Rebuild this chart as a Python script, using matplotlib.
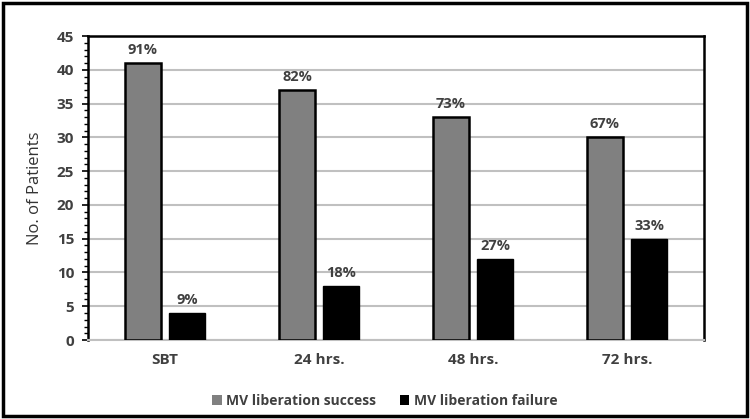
import numpy as np
import matplotlib.pyplot as plt
from matplotlib.patches import Rectangle

plt.rcParams['font.family'] = ['Open Sans', 'DejaVu Sans']

categories = ['SBT', '24 hrs.', '48 hrs.', '72 hrs.']
success = [41, 37, 33, 30]
failure = [4, 8, 12, 15]
success_pct = ['91%', '82%', '73%', '67%']
failure_pct = ['9%', '18%', '27%', '33%']

txt = '#404040'

fig = plt.figure(figsize=(7.5, 4.19), dpi=100)
ax = fig.add_axes([0.1173, 0.1885, 0.8214, 0.7255])

x = np.arange(len(categories))
w = 0.234
off = 0.143

b1 = ax.bar(x - off, success, w, color='#808080', edgecolor='black', linewidth=1.8,
            label='MV liberation success', zorder=3)
b2 = ax.bar(x + off, failure, w, color='black', edgecolor='black', linewidth=1.0,
            label='MV liberation failure', zorder=3)

for rect, lab in zip(b1, success_pct):
    ax.text(rect.get_x() + rect.get_width() / 2, rect.get_height() + 0.9, lab,
            ha='center', va='bottom', fontsize=10.5, fontweight='bold', color=txt)
for rect, lab in zip(b2, failure_pct):
    ax.text(rect.get_x() + rect.get_width() / 2, rect.get_height() + 0.9, lab,
            ha='center', va='bottom', fontsize=10.5, fontweight='bold', color=txt)

ax.set_xlim(-0.5, 3.5)
ax.set_ylim(0, 45)
ax.set_yticks(np.arange(0, 46, 5))
ax.set_yticks(np.arange(0, 46, 1), minor=True)
ax.set_xticks(x)
ax.set_xticklabels(categories)
ax.tick_params(axis='x', length=0, pad=9, labelsize=11, labelcolor=txt)
ax.tick_params(axis='y', which='major', length=4, width=1.2, labelsize=11, labelcolor=txt, pad=6)
ax.tick_params(axis='y', which='minor', length=3, width=1.0)
for lab in ax.get_xticklabels() + ax.get_yticklabels():
    lab.set_fontweight('bold')

ax.yaxis.grid(True, color='#c0c0c0', linewidth=1.5, zorder=0)
ax.set_axisbelow(True)
for s in ['left', 'top', 'right']:
    ax.spines[s].set_linewidth(1.8)
    ax.spines[s].set_color('black')
ax.spines['bottom'].set_color('#c0c0c0')
ax.spines['bottom'].set_linewidth(1.5)

ax.set_ylabel('No. of Patients', fontsize=12, color='#333333', labelpad=10)

leg = fig.legend(handles=[b1, b2], loc='center', bbox_to_anchor=(0.513, 0.043), ncol=2,
                 frameon=False, fontsize=10, handlelength=0.7, handleheight=0.7,
                 columnspacing=1.7, handletextpad=0.3)
for t in leg.get_texts():
    t.set_color(txt)
    t.set_fontweight('bold')
for h in leg.legend_handles:
    h.set_linewidth(0)

fig.patches.append(Rectangle((0.004, 0.006), 0.992, 0.988, transform=fig.transFigure,
                             fill=False, edgecolor='black', linewidth=2.5))

fig.savefig('out.png', dpi=100)
